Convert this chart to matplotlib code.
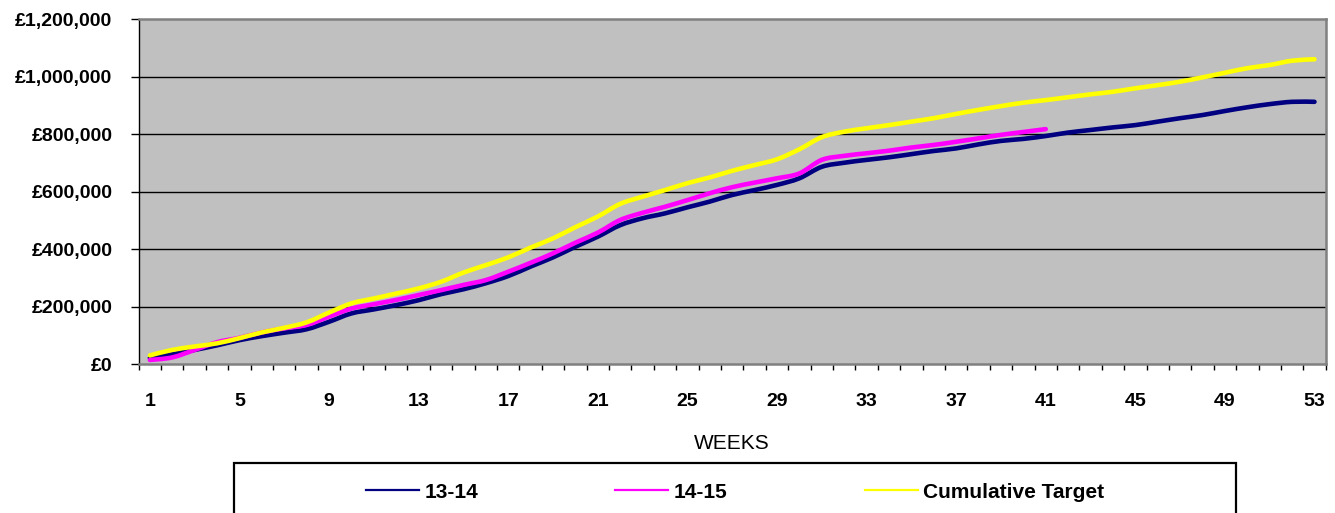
import matplotlib
matplotlib.use("Agg")
import matplotlib.pyplot as plt
from matplotlib.lines import Line2D
from matplotlib.patches import Rectangle, PathPatch
from matplotlib.path import Path
from matplotlib.ticker import FuncFormatter, FixedLocator

plt.rcParams['font.family'] = ['Liberation Sans', 'DejaVu Sans']

# Weekly cumulative income (GBP)
weeks = list(range(1, 54))

income_13_14 = [
    22000, 35000, 50000, 66000, 84000, 98000, 110000, 122000, 148000, 177000,
    191000, 206000, 223000, 244000, 261000, 282000, 307000, 340000, 372000, 409000,
    444000, 484000, 508000, 525000, 546000, 566000, 589000, 606000, 624000, 647000,
    687000, 701000, 711000, 720000, 731000, 742000, 751000, 765000, 777000, 784000,
    794000, 806000, 815000, 824000, 832000, 844000, 856000, 867000, 881000, 894000,
    905000, 913000, 913000,
]

income_14_15 = [
    15000, 24000, 50000, 77000, 92000, 111000, 125000, 137000, 166000, 194000,
    209000, 224000, 241000, 258000, 276000, 293000, 322000, 353000, 386000, 423000,
    458000, 502000, 527000, 548000, 571000, 595000, 616000, 632000, 647000, 664000,
    711000, 725000, 734000, 743000, 754000, 763000, 774000, 786000, 798000, 808000,
    818000,
]

cumulative_target = [
    31000, 50000, 62000, 73000, 91000, 111000, 127000, 146000, 180000, 212000,
    229000, 246000, 264000, 287000, 319000, 345000, 372000, 406000, 438000, 477000,
    514000, 558000, 583000, 606000, 630000, 650000, 673000, 693000, 713000, 748000,
    790000, 809000, 821000, 832000, 844000, 856000, 871000, 885000, 898000, 910000,
    919000, 929000, 939000, 948000, 960000, 971000, 983000, 998000, 1014000, 1030000,
    1041000, 1056000, 1061000,
]

series_labels = ['13-14', '14-15', 'Cumulative Target']
series_colors = ['#000080', '#FF00FF', '#FFFF00']
x_labels = list(range(1, 54, 4))
y_ticks = [0, 200000, 400000, 600000, 800000, 1000000, 1200000]


def smooth_path(xs, ys):
    """Smoothed line through every data point (cubic Bezier segments)."""
    pts = list(zip(xs, ys))
    n = len(pts)
    verts = [pts[0]]
    codes = [Path.MOVETO]
    for i in range(n - 1):
        p0 = pts[i - 1] if i > 0 else pts[i]
        p1 = pts[i]
        p2 = pts[i + 1]
        p3 = pts[i + 2] if i + 2 < n else pts[i + 1]
        c1 = (p1[0] + (p2[0] - p0[0]) / 6, p1[1] + (p2[1] - p0[1]) / 6)
        c2 = (p2[0] - (p3[0] - p1[0]) / 6, p2[1] - (p3[1] - p1[1]) / 6)
        verts += [c1, c2, p2]
        codes += [Path.CURVE4] * 3
    return Path(verts, codes)


W, H = 1335, 513
fig = plt.figure(figsize=(W / 100, H / 100), dpi=100)
fig.patch.set_facecolor('white')

left, right, top, bottom = 138.7, 1325.7, 19.3, 364.3
ax = fig.add_axes([left / W, 1 - bottom / H, (right - left) / W, (bottom - top) / H])
ax.set_facecolor('#C0C0C0')

all_series = [income_13_14, income_14_15, cumulative_target]
for vals, col, lab in zip(all_series, series_colors, series_labels):
    path = smooth_path(weeks[:len(vals)], vals)
    ax.add_patch(PathPatch(path, facecolor='none', edgecolor=col, lw=3.3,
                           joinstyle='round', capstyle='round', zorder=3, label=lab))

ax.set_xlim(0.5, 53.5)
ax.set_ylim(0, 1200000)

# gridlines
for yv in y_ticks[1:-1]:
    ax.axhline(yv, color='black', lw=1.0, zorder=1)

# y axis
ax.yaxis.set_major_locator(FixedLocator(y_ticks))
ax.yaxis.set_major_formatter(FuncFormatter(lambda v, p: f"£{v:,.0f}"))
ax.tick_params(axis='y', which='major', direction='out', length=6, width=1,
               color='black', pad=13, labelsize=14)

# x axis: labels on every 4th week, tick marks between categories
ax.xaxis.set_major_locator(FixedLocator(x_labels))
ax.xaxis.set_minor_locator(FixedLocator([w + 0.5 for w in range(0, 54)]))
ax.tick_params(axis='x', which='major', length=0, pad=21, labelsize=14)
ax.tick_params(axis='x', which='minor', direction='out', length=4.5, width=1, color='black')

for lbl in ax.get_xticklabels() + ax.get_yticklabels():
    lbl.set_fontweight('bold')

ax.set_xlabel('WEEKS', fontsize=15)
ax.xaxis.set_label_coords(0.5, -(443.5 - bottom) / (bottom - top))
ax.xaxis.label.set_va('center')

ax.spines['left'].set_color('black')
ax.spines['left'].set_linewidth(1.0)
for s in ('top', 'right', 'bottom'):
    ax.spines[s].set_color('#808080')
    ax.spines[s].set_linewidth(1.8)

# legend panel
box = Rectangle((234 / W, -0.1), (1236 - 234) / W, (H - 462.7) / H + 0.1,
                transform=fig.transFigure, facecolor='white', edgecolor='black',
                lw=1.6, zorder=1)
fig.add_artist(box)

handles = [Line2D([0], [0], color=c, lw=1.6) for c in series_colors]
leg = fig.legend(handles, series_labels, loc='center',
                 bbox_to_anchor=(735 / W, 1 - 492 / H), ncol=3, frameon=False,
                 prop={'size': 15, 'weight': 'bold'}, handlelength=2.54,
                 handletextpad=0.24, columnspacing=6.6, borderaxespad=0)
leg.set_zorder(5)

fig.savefig('out.png', dpi=100, facecolor='white')
